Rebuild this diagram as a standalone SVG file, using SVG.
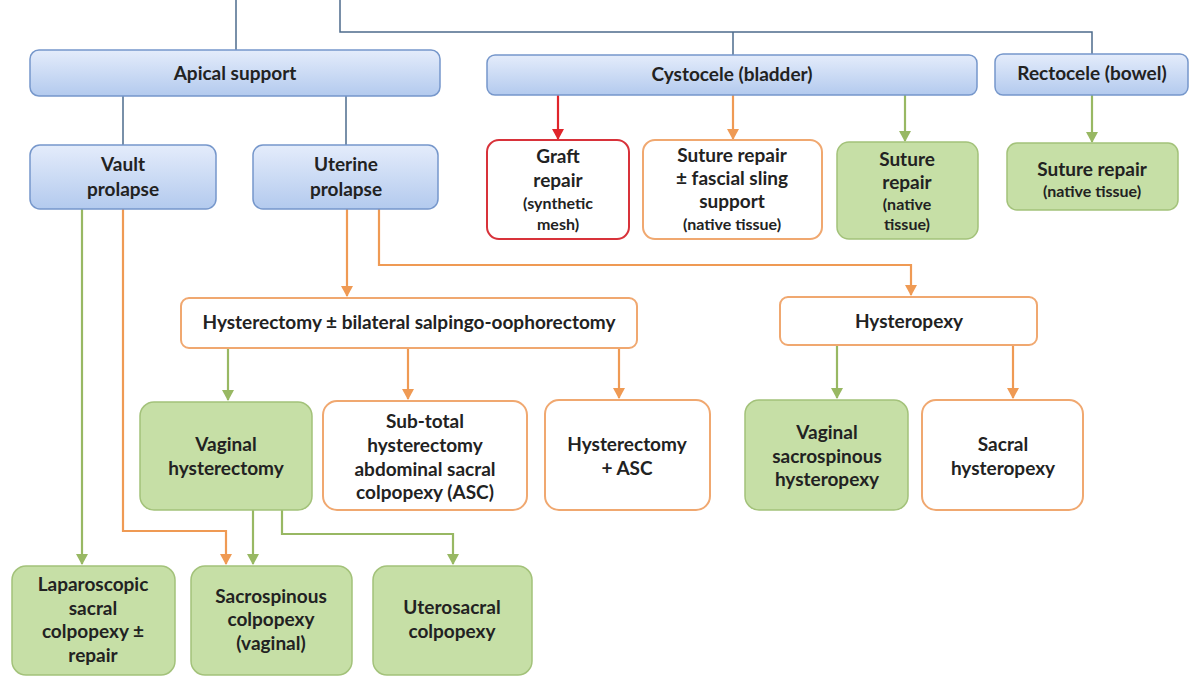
<svg xmlns="http://www.w3.org/2000/svg" width="1191" height="678" viewBox="0 0 1191 678">
<defs>
<linearGradient id="blueGrad" x1="0" y1="0" x2="0" y2="1">
<stop offset="0" stop-color="#e4ecfb"/>
<stop offset="1" stop-color="#b3caee"/>
</linearGradient>
<marker id="arrOrange" markerUnits="userSpaceOnUse" markerWidth="12" markerHeight="12" refX="10" refY="6" orient="auto" viewBox="0 0 12 12"><path d="M0,0 L11,6 L0,12 z" fill="#ef9a54"/></marker>
<marker id="arrGreen" markerUnits="userSpaceOnUse" markerWidth="12" markerHeight="12" refX="10" refY="6" orient="auto" viewBox="0 0 12 12"><path d="M0,0 L11,6 L0,12 z" fill="#98b863"/></marker>
<marker id="arrRed" markerUnits="userSpaceOnUse" markerWidth="12" markerHeight="12" refX="10" refY="6" orient="auto" viewBox="0 0 12 12"><path d="M0,0 L11,6 L0,12 z" fill="#e0252b"/></marker>
</defs>
<style>
.blue{fill:url(#blueGrad);stroke:#7697cb;stroke-width:1.5}
.green{fill:#c6dfa6;stroke:#a3c27a;stroke-width:1.5}
.orange{fill:#ffffff;stroke:#f0a870;stroke-width:2}
.red{fill:#ffffff;stroke:#d8323a;stroke-width:2}
text{font-family:Lato,"Open Sans","Liberation Sans",sans-serif;font-weight:bold;font-size:19px;fill:#222222;text-anchor:middle}
text.s{font-size:16px}
.cb{fill:none;stroke:#4d6b8c;stroke-width:1.5}
.co{fill:none;stroke:#ef9a54;stroke-width:2.2}
.cg{fill:none;stroke:#98b863;stroke-width:2.2}
.cr{fill:none;stroke:#e0252b;stroke-width:2.2}
</style>
<rect width="1191" height="678" fill="#ffffff"/>
<g id="connectors">
<path class="cb" d="M236 0 V50"/>
<path class="cb" d="M340 0 V32 H1092 V54"/>
<path class="cb" d="M733 32 V55"/>
<path class="cb" d="M123 96 V145"/>
<path class="cb" d="M346 96 V145"/>
<path class="cr" d="M558 95 V139" marker-end="url(#arrRed)"/>
<path class="co" d="M733 95 V139" marker-end="url(#arrOrange)"/>
<path class="cg" d="M905 95 V141" marker-end="url(#arrGreen)"/>
<path class="cg" d="M1092 95 V142" marker-end="url(#arrGreen)"/>
<path class="co" d="M347 209 V296" marker-end="url(#arrOrange)"/>
<path class="co" d="M379 209 V265 H911 V295" marker-end="url(#arrOrange)"/>
<path class="cg" d="M82 209 V564" marker-end="url(#arrGreen)"/>
<path class="co" d="M123 209 V531 H226 V564" marker-end="url(#arrOrange)"/>
<path class="cg" d="M228 348 V400" marker-end="url(#arrGreen)"/>
<path class="co" d="M408 348 V399" marker-end="url(#arrOrange)"/>
<path class="co" d="M619 348 V398" marker-end="url(#arrOrange)"/>
<path class="cg" d="M837 345 V398" marker-end="url(#arrGreen)"/>
<path class="co" d="M1013 345 V398" marker-end="url(#arrOrange)"/>
<path class="cg" d="M253 510 V564" marker-end="url(#arrGreen)"/>
<path class="cg" d="M282 510 V534 H453 V564" marker-end="url(#arrGreen)"/>
</g>
<g id="apical-support"><rect class="blue" x="30" y="50" width="410" height="46" rx="9"/><text x="235" y="80">Apical support</text></g>
<g id="cystocele"><rect class="blue" x="487" y="55" width="490" height="40" rx="8"/><text x="732" y="81">Cystocele (bladder)</text></g>
<g id="rectocele"><rect class="blue" x="995" y="54" width="193" height="41" rx="8"/><text x="1092" y="80">Rectocele (bowel)</text></g>
<g id="vault-prolapse"><rect class="blue" x="30" y="145" width="186" height="64" rx="10"/><text x="123" y="171">Vault</text><text x="123" y="196">prolapse</text></g>
<g id="uterine-prolapse"><rect class="blue" x="253" y="145" width="185" height="64" rx="10"/><text x="346" y="171">Uterine</text><text x="346" y="196">prolapse</text></g>
<g id="graft-repair"><rect class="red" x="487" y="140" width="142" height="99" rx="12"/><text x="558" y="163">Graft</text><text x="558" y="187">repair</text><text class="s" x="558" y="209">(synthetic</text><text class="s" x="558" y="230">mesh)</text></g>
<g id="suture-fascial"><rect class="orange" x="643" y="140" width="179" height="99" rx="12"/><text x="732" y="162">Suture repair</text><text x="732" y="185">± fascial sling</text><text x="732" y="208">support</text><text class="s" x="732" y="230">(native tissue)</text></g>
<g id="suture-native-cysto"><rect class="green" x="837" y="142" width="141" height="97" rx="12"/><text x="907" y="166">Suture</text><text x="907" y="189">repair</text><text class="s" x="907" y="210">(native</text><text class="s" x="907" y="230">tissue)</text></g>
<g id="suture-native-recto"><rect class="green" x="1007" y="143" width="171" height="67" rx="10"/><text x="1092" y="176">Suture repair</text><text class="s" x="1092" y="197">(native tissue)</text></g>
<g id="hysterectomy-bso"><rect class="orange" x="181" y="298" width="456" height="50" rx="8"/><text x="409" y="329">Hysterectomy ± bilateral salpingo-oophorectomy</text></g>
<g id="hysteropexy"><rect class="orange" x="780" y="297" width="257" height="48" rx="8"/><text x="909" y="328">Hysteropexy</text></g>
<g id="vaginal-hysterectomy"><rect class="green" x="140" y="402" width="172" height="108" rx="14"/><text x="226" y="451">Vaginal</text><text x="226" y="475">hysterectomy</text></g>
<g id="subtotal"><rect class="orange" x="323" y="401" width="204" height="109" rx="14"/><text x="425" y="428">Sub-total</text><text x="425" y="452">hysterectomy</text><text x="425" y="476">abdominal sacral</text><text x="425" y="499">colpopexy (ASC)</text></g>
<g id="hysterectomy-asc"><rect class="orange" x="545" y="400" width="165" height="110" rx="14"/><text x="627" y="451">Hysterectomy</text><text x="627" y="475">+ ASC</text></g>
<g id="vaginal-sacrospinous-hysteropexy"><rect class="green" x="745" y="400" width="163" height="110" rx="14"/><text x="827" y="439">Vaginal</text><text x="827" y="463">sacrospinous</text><text x="827" y="486">hysteropexy</text></g>
<g id="sacral-hysteropexy"><rect class="orange" x="922" y="400" width="161" height="110" rx="14"/><text x="1003" y="451">Sacral</text><text x="1003" y="475">hysteropexy</text></g>
<g id="laparoscopic"><rect class="green" x="12" y="566" width="163" height="109" rx="14"/><text x="93" y="591">Laparoscopic</text><text x="93" y="615">sacral</text><text x="93" y="638">colpopexy ±</text><text x="93" y="662">repair</text></g>
<g id="sacrospinous-colpopexy"><rect class="green" x="191" y="566" width="161" height="109" rx="14"/><text x="271" y="603">Sacrospinous</text><text x="271" y="626">colpopexy</text><text x="271" y="650">(vaginal)</text></g>
<g id="uterosacral-colpopexy"><rect class="green" x="373" y="566" width="159" height="109" rx="14"/><text x="452" y="614">Uterosacral</text><text x="452" y="638">colpopexy</text></g>
</svg>
